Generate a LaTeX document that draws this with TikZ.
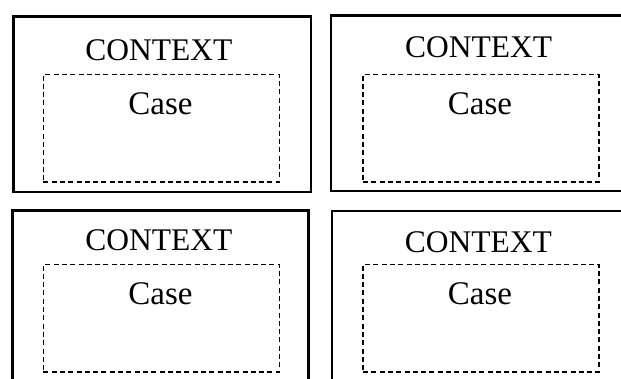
\documentclass[tikz,border=0pt]{standalone}
\usepackage{fontspec}
\setmainfont{Liberation Serif}
\begin{document}
\begin{tikzpicture}[x=1pt,y=-1pt,
  ctxbox/.style={draw=black, line width=2.6pt, fill=none, inner sep=0pt},
  casebox/.style={draw=black, line width=1.3pt, dash pattern=on 5pt off 3.3pt, inner sep=0pt},
  ctxlabel/.style={anchor=base, inner sep=0pt, font=\fontsize{31.5}{36}\selectfont},
  caselabel/.style={anchor=base, inner sep=0pt, font=\fontsize{33}{36}\selectfont}]
  \useasboundingbox (0,0) rectangle (621,379);
  \clip (0,0) rectangle (621,379);
  \fill[white] (0,0) rectangle (621,379);

  % outer context frames
  \node[ctxbox, minimum width=297.5pt, minimum height=175.5pt] (f1) at (162.25,104.25) {};
  \node[ctxbox, minimum width=330pt, minimum height=175.5pt] (f2) at (496,103.25) {};
  \node[ctxbox, minimum width=296.4pt, minimum height=210pt] (f3) at (160.5,315.5) {};
  \node[ctxbox, minimum width=330pt, minimum height=210pt] (f4) at (497,316) {};

  % dashed case boxes
  \node[casebox, minimum width=236pt, minimum height=107.7pt] (b1) at (161.3,128.15) {};
  \node[casebox, minimum width=236pt, minimum height=107.7pt] (b2) at (481,128.15) {};
  \node[casebox, minimum width=236pt, minimum height=107.7pt] (b3) at (161.3,318.15) {};
  \node[casebox, minimum width=236pt, minimum height=107.7pt] (b4) at (481,318.15) {};

  % labels
  \node[ctxlabel] (t1) at (158.8,61) {CONTEXT};
  \node[ctxlabel] (t2) at (478.7,57.3) {CONTEXT};
  \node[ctxlabel] (t3) at (158.8,251) {CONTEXT};
  \node[ctxlabel] (t4) at (478.3,252.3) {CONTEXT};

  \node[caselabel] (c1) at (160.5,114.3) {Case};
  \node[caselabel] (c2) at (480,114.3) {Case};
  \node[caselabel] (c3) at (160.5,304.3) {Case};
  \node[caselabel] (c4) at (480,305) {Case};
\end{tikzpicture}
\end{document}
